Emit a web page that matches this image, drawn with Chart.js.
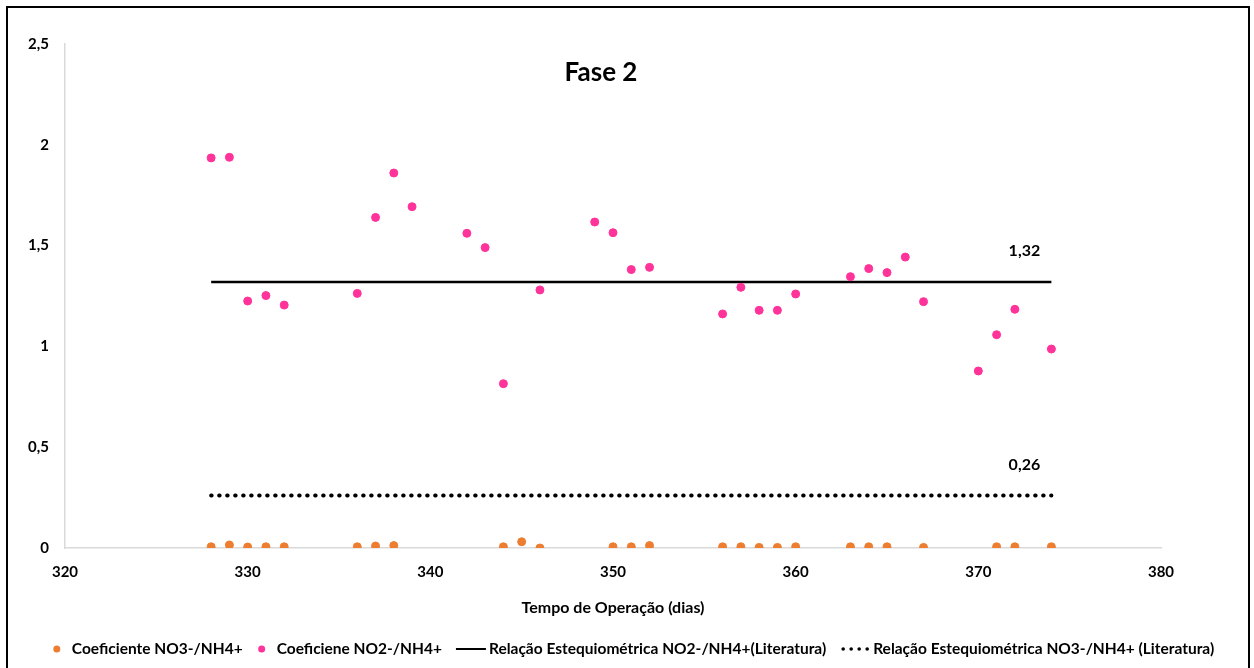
<!DOCTYPE html>
<html>
<head>
<meta charset="utf-8">
<script src="https://cdn.jsdelivr.net/npm/chart.js@4.4.0/dist/chart.umd.min.js"></script>
<style>
  body { margin: 0; background: #fff; }
  #wrap { position: relative; width: 1254px; height: 668px; overflow: hidden; }
  #frame { position: absolute; left: 6px; top: 6px; width: 1244px; height: 720px; border: 2px solid #000; box-sizing: border-box; pointer-events: none; }
  canvas { position: absolute; left: 0; top: 0; }
</style>
</head>
<body>
<div id="wrap">
  <canvas id="chart" width="1254" height="668"></canvas>
  <div id="frame"></div>
</div>
<script>
// Fase 2 - coeficientes medidos
const no3Days = [328, 329, 330, 331, 332, 336, 337, 338, 344, 345, 346, 350, 351, 352,
                 356, 357, 358, 359, 360, 363, 364, 365, 367, 371, 372, 374];
const no3Values = [0.006, 0.015, 0.005, 0.006, 0.006, 0.006, 0.010, 0.012, 0.006, 0.031, 0.0, 0.006, 0.006, 0.012,
                   0.006, 0.006, 0.003, 0.003, 0.006, 0.006, 0.006, 0.006, 0.003, 0.006, 0.006, 0.006];

const no2Days = [328, 329, 330, 331, 332, 336, 337, 338, 339, 342, 343, 344, 346, 349, 350, 351, 352,
                 356, 357, 358, 359, 360, 363, 364, 365, 366, 367, 370, 371, 372, 374];
const no2Values = [1.935, 1.938, 1.225, 1.252, 1.205, 1.263, 1.640, 1.860, 1.693, 1.561, 1.490, 0.815, 1.280,
                   1.617, 1.564, 1.381, 1.392, 1.161, 1.293, 1.179, 1.179, 1.260, 1.346, 1.386, 1.366, 1.443,
                   1.222, 0.878, 1.058, 1.184, 0.987];

// Relações estequiométricas (literatura)
const refDays = [328, 374];
const refNO2 = 1.32;
const refNO3 = 0.26;

const xTicks = [320, 330, 340, 350, 360, 370, 380];
const yTicks = [0, 0.5, 1, 1.5, 2, 2.5];

const FONT = 'Lato, "Open Sans", sans-serif';
const fmt = v => String(v).replace('.', ',');

const toPoints = (xs, ys) => xs.map((x, i) => ({ x: x, y: ys[i] }));

// title inside the plot area
const titlePlugin = {
    id: 'innerTitle',
    afterDraw(chart) {
        const ctx = chart.ctx;
        ctx.save();
        ctx.font = 'bold 26px ' + FONT;
        ctx.fillStyle = '#000';
        ctx.textAlign = 'center';
        ctx.textBaseline = 'middle';
        ctx.fillText('Fase 2', 601, 73);
        ctx.restore();
    }
};

// value labels above the end of the reference lines
const refLabelPlugin = {
    id: 'refLabels',
    afterDatasetsDraw(chart) {
        const ctx = chart.ctx;
        const x = chart.scales.x;
        const y = chart.scales.y;
        ctx.save();
        ctx.font = 'bold 16px ' + FONT;
        ctx.fillStyle = '#000';
        ctx.textAlign = 'center';
        ctx.textBaseline = 'middle';
        [refNO2, refNO3].forEach(v => {
            ctx.fillText(fmt(v), x.getPixelForValue(refDays[1]) - 27, y.getPixelForValue(v) - 31);
        });
        ctx.restore();
    }
};

// legend drawn by hand so the line markers look like the original
const legendPlugin = {
    id: 'bottomLegend',
    afterDraw(chart) {
        const ctx = chart.ctx;
        ctx.save();
        ctx.font = 'bold 15.5px ' + FONT;
        ctx.textBaseline = 'middle';
        const cy = 649;
        const items = chart.data.datasets.map(ds => {
            const mw = ds.marker === 'dot' ? 10 : 30;
            const gap = ds.marker === 'dot' ? 10 : 3;
            return { ds, mw, gap, tw: ctx.measureText(ds.label).width };
        });
        const spacing = 14;
        let total = 0;
        items.forEach((it, i) => { total += it.mw + it.gap + it.tw + (i ? spacing : 0); });
        let x = 633 - total / 2;
        items.forEach(it => {
            const ds = it.ds;
            if (ds.marker === 'dot') {
                ctx.fillStyle = ds.backgroundColor;
                ctx.beginPath();
                ctx.arc(x + it.mw / 2, cy, 3.5, 0, Math.PI * 2);
                ctx.fill();
            } else if (ds.marker === 'line') {
                ctx.strokeStyle = ds.borderColor;
                ctx.lineWidth = 2;
                ctx.beginPath();
                ctx.moveTo(x, cy);
                ctx.lineTo(x + it.mw, cy);
                ctx.stroke();
            } else {
                ctx.fillStyle = ds.borderColor;
                for (let k = 0; k < 4; k++) {
                    ctx.beginPath();
                    ctx.arc(x + 3 + k * 8, cy, 1.8, 0, Math.PI * 2);
                    ctx.fill();
                }
            }
            x += it.mw + it.gap;
            ctx.fillStyle = '#000';
            ctx.textAlign = 'left';
            ctx.fillText(ds.label, x, cy);
            x += it.tw + spacing;
        });
        ctx.restore();
    }
};

new Chart(document.getElementById('chart'), {
    type: 'scatter',
    data: {
        datasets: [
            {
                label: 'Coeficiente NO3-/NH4+',
                marker: 'dot',
                data: toPoints(no3Days, no3Values),
                backgroundColor: '#ED7D31',
                borderColor: '#ED7D31',
                pointRadius: 4,
                order: 1
            },
            {
                label: 'Coeficiene NO2-/NH4+',
                marker: 'dot',
                data: toPoints(no2Days, no2Values),
                backgroundColor: '#FF3399',
                borderColor: '#FF3399',
                pointRadius: 4,
                order: 1
            },
            {
                label: 'Relação Estequiométrica NO2-/NH4+(Literatura)',
                marker: 'line',
                type: 'line',
                data: toPoints(refDays, refDays.map(() => refNO2)),
                borderColor: '#000',
                borderWidth: 2.5,
                pointRadius: 0,
                order: 2
            },
            {
                label: 'Relação Estequiométrica NO3-/NH4+ (Literatura)',
                marker: 'dots',
                type: 'line',
                data: toPoints(refDays, refDays.map(() => refNO3)),
                borderColor: '#000',
                borderWidth: 4,
                borderDash: [0.5, 7.5],
                borderCapStyle: 'round',
                pointRadius: 0,
                order: 2
            }
        ]
    },
    options: {
        responsive: false,
        animation: false,
        layout: { padding: { left: 0, right: 93, top: 44, bottom: 50 } },
        plugins: {
            legend: { display: false },
            tooltip: { enabled: false }
        },
        scales: {
            x: {
                type: 'linear',
                min: xTicks[0],
                max: xTicks[xTicks.length - 1],
                afterBuildTicks: s => { s.ticks = xTicks.map(v => ({ value: v })); },
                afterFit: s => { s.height = 70; },
                grid: { display: false, drawTicks: false },
                border: { display: true, color: '#D9D9D9', width: 1.5 },
                ticks: {
                    padding: 15,
                    color: '#000',
                    font: { family: FONT, size: 15, weight: 'bold' }
                },
                title: {
                    display: true,
                    text: 'Tempo de Operação (dias)',
                    color: '#000',
                    font: { family: FONT, size: 16, weight: 'bold' },
                    padding: { top: 0, bottom: 1 }
                }
            },
            y: {
                min: yTicks[0],
                max: yTicks[yTicks.length - 1],
                afterBuildTicks: s => { s.ticks = yTicks.map(v => ({ value: v })); },
                afterFit: s => { s.width = 65; },
                grid: { display: false, drawTicks: false },
                border: { display: true, color: '#D9D9D9', width: 1.5 },
                ticks: {
                    padding: 16,
                    color: '#000',
                    font: { family: FONT, size: 15, weight: 'bold' },
                    callback: v => fmt(v)
                }
            }
        }
    },
    plugins: [titlePlugin, refLabelPlugin, legendPlugin]
});
</script>
</body>
</html>
